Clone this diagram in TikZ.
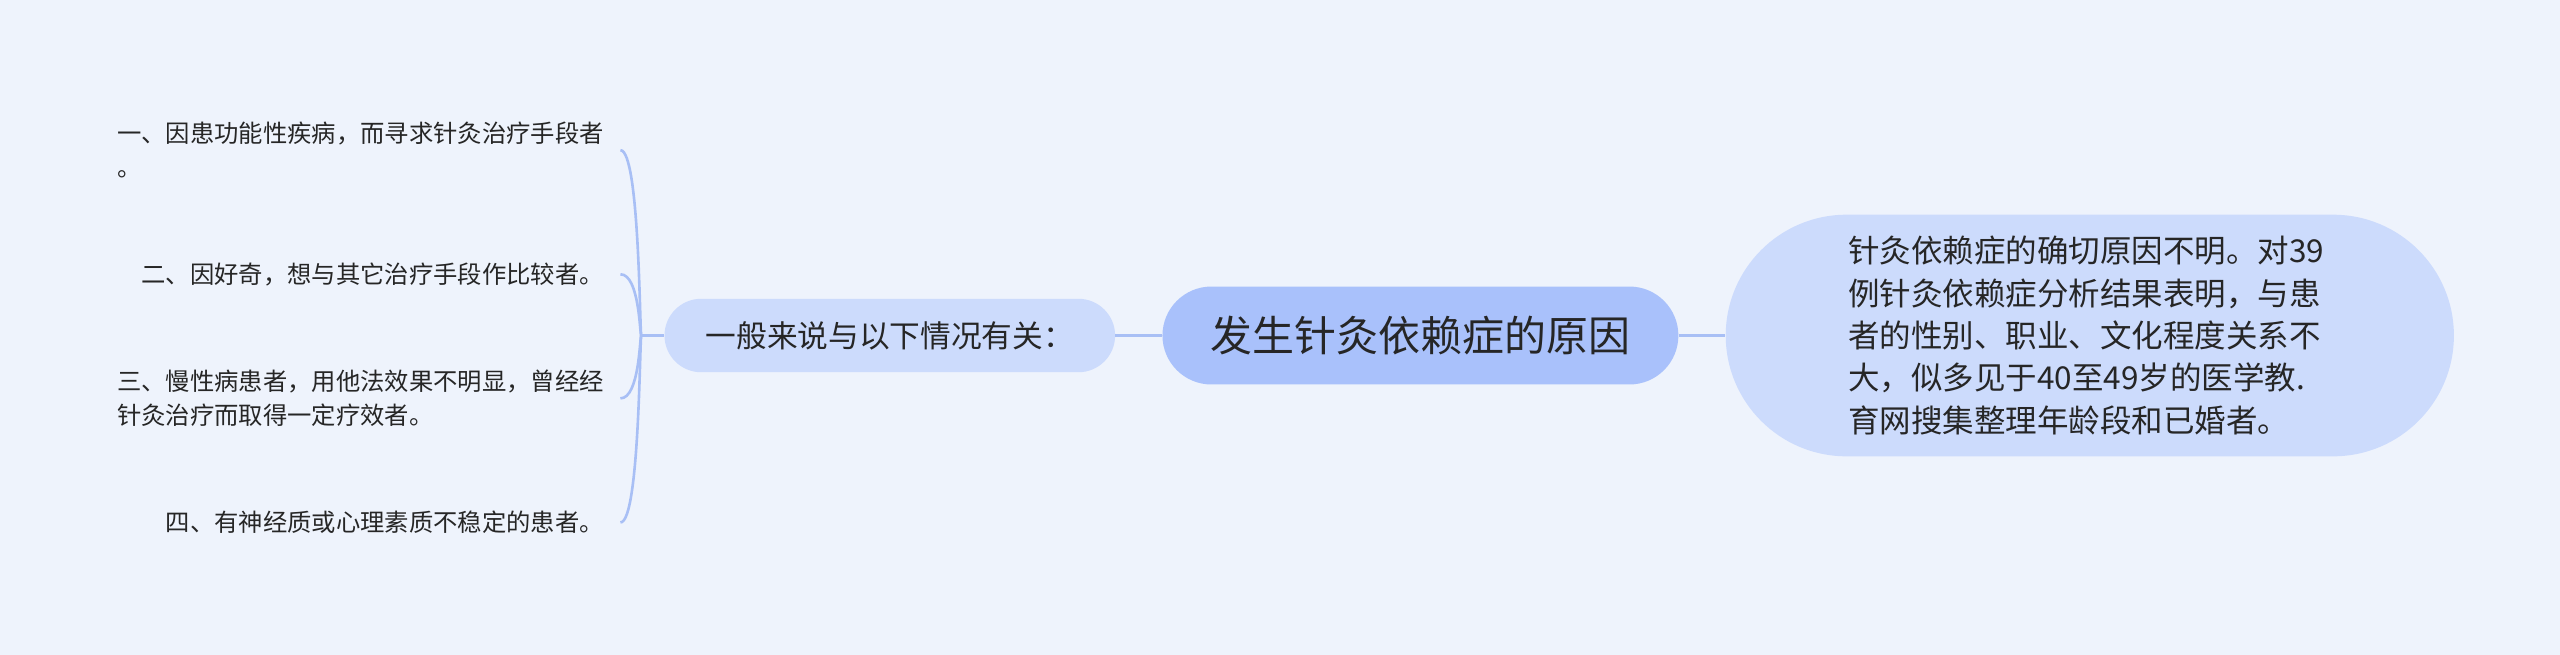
\documentclass[tikz,border=0pt]{standalone}
\usepackage{fontspec}
\setmainfont{Noto Sans CJK SC}
\usetikzlibrary{calc}
\definecolor{bgcolor}{HTML}{EEF3FC}
\definecolor{rootfill}{HTML}{A9C1FB}
\definecolor{topicfill}{HTML}{CCDBFC}
\definecolor{linecolor}{HTML}{A8BFF5}
\definecolor{textcolor}{HTML}{262626}
\tikzset{rootbox/.style={fill=rootfill,text=textcolor,rounded corners=30pt,minimum width=316pt,minimum height=60pt,inner sep=0pt,font=\fontsize{25.7}{30}\selectfont}}
\tikzset{topicbox/.style={fill=topicfill,text=textcolor,inner sep=0pt}}
\tikzset{leaf/.style={text=textcolor,text width=298pt,inner xsep=10pt,inner ysep=0pt,anchor=east,align=#1,font=\fontsize{14.9}{21}\selectfont},leaf/.default=right}
\tikzset{branch/.style={color=linecolor,line width=1.6pt}}

\begin{document}
\begin{tikzpicture}[x=1pt,y=-1pt]
	\fill [bgcolor] (0,0) rectangle (1568,401);

	\node [rootbox] (root) at (870,205.5) {发生针灸依赖症的原因};
	\node [topicbox,minimum width=276pt,minimum height=45pt,rounded corners=22.5pt,
		font=\fontsize{18.8}{22}\selectfont] (topic) at (545,205.5) {一般来说与以下情况有关：};
	\node [topicbox,minimum width=446pt,minimum height=148pt,rounded corners=74pt,
		text width=296pt,align=left,font=\fontsize{19.3}{26}\selectfont] (detail) at (1280,205.5)
		{针灸依赖症的确切原因不明。对39\\例针灸依赖症分析结果表明，与患\\者的性别、职业、文化程度关系不\\大，似多见于40至49岁的医学教.\\育网搜集整理年龄段和已婚者。};

	% leaves on the left
	\node [leaf=left] (leafone) at (380,92) {一、因患功能性疾病，而寻求针灸治疗手段者\\。};
	\node [leaf] (leaftwo) at (380,168) {二、因好奇，想与其它治疗手段作比较者。};
	\node [leaf=left] (leafthree) at (380,244) {三、慢性病患者，用他法效果不明显，曾经经\\针灸治疗而取得一定疗效者。};
	\node [leaf] (leaffour) at (380,320) {四、有神经质或心理素质不稳定的患者。};

	\coordinate (J) at ($(topic.west)+(-14,0)$);
	\draw [branch] (root.east) -- (detail.west);
	\draw [branch] (root.west) -- (topic.east);
	\draw [branch] (topic.west) -- (J);
	\foreach \n in {leafone,leaftwo,leafthree,leaffour}
		\draw [branch] (J) .. controls ($(J)+(-1,0)$) and ($(J |- \n.east)+(-1,0)$) .. (\n.east);
\end{tikzpicture}
\end{document}
